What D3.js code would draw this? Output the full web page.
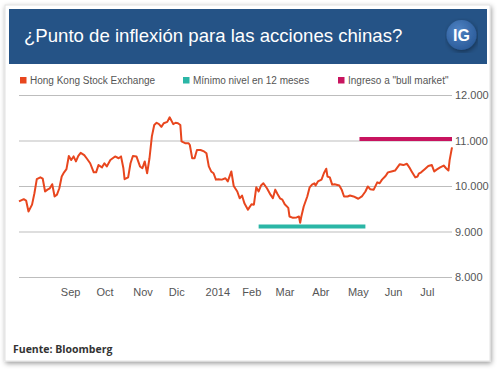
<!DOCTYPE html>
<html>
<head>
<meta charset="utf-8">
<script src="https://cdn.jsdelivr.net/npm/d3@7"></script>
<style>
  body { margin: 0; background: #fff; }
  svg { display: block; }
</style>
</head>
<body>
<svg id="chart"></svg>
<script>
// Index level (Hang Seng China Enterprises)
const dates = [
  "2013-07-29","2013-08-02","2013-08-04","2013-08-06","2013-08-09","2013-08-11","2013-08-13","2013-08-16",
  "2013-08-18","2013-08-20","2013-08-22","2013-08-24","2013-08-26","2013-08-28","2013-08-30","2013-09-01",
  "2013-09-03","2013-09-05","2013-09-07","2013-09-09","2013-09-11","2013-09-13","2013-09-15","2013-09-17",
  "2013-09-19","2013-09-22","2013-09-24","2013-09-27","2013-09-30","2013-10-02","2013-10-04","2013-10-07",
  "2013-10-09","2013-10-11","2013-10-14","2013-10-16","2013-10-18","2013-10-21","2013-10-23","2013-10-25",
  "2013-10-26","2013-10-29","2013-10-31","2013-11-02","2013-11-05","2013-11-08","2013-11-10","2013-11-12",
  "2013-11-14","2013-11-16","2013-11-18","2013-11-20","2013-11-22","2013-11-24","2013-11-26","2013-11-28",
  "2013-12-01","2013-12-03","2013-12-06","2013-12-08","2013-12-10","2013-12-12","2013-12-13","2013-12-16",
  "2013-12-19","2013-12-20","2013-12-22","2013-12-24","2013-12-26","2013-12-29","2014-01-01","2014-01-03",
  "2014-01-05","2014-01-07","2014-01-09","2014-01-11","2014-01-13","2014-01-16","2014-01-19","2014-01-21",
  "2014-01-24","2014-01-26","2014-01-29","2014-01-31","2014-02-02","2014-02-04","2014-02-07","2014-02-10",
  "2014-02-12","2014-02-14","2014-02-16","2014-02-18","2014-02-20","2014-02-23","2014-02-26","2014-02-28",
  "2014-03-02","2014-03-04","2014-03-06","2014-03-08","2014-03-10","2014-03-13","2014-03-14","2014-03-17",
  "2014-03-20","2014-03-22","2014-03-23","2014-03-24","2014-03-26","2014-03-29","2014-03-31","2014-04-02",
  "2014-04-04","2014-04-05","2014-04-07","2014-04-10","2014-04-12","2014-04-14","2014-04-15","2014-04-17",
  "2014-04-19","2014-04-21","2014-04-25","2014-04-27","2014-04-29","2014-05-02","2014-05-04","2014-05-07",
  "2014-05-11","2014-05-14","2014-05-17","2014-05-19","2014-05-21","2014-05-24","2014-05-27","2014-05-29",
  "2014-05-31","2014-06-03","2014-06-05","2014-06-08","2014-06-11","2014-06-13","2014-06-15","2014-06-18",
  "2014-06-21","2014-06-23","2014-06-25","2014-06-28","2014-06-30","2014-07-01","2014-07-03","2014-07-06",
  "2014-07-09","2014-07-12","2014-07-14","2014-07-16","2014-07-19","2014-07-22","2014-07-24","2014-07-26",
  "2014-07-27","2014-07-29"
];
const values = [
  9660,9710,9680,9440,9590,9840,10150,10190,
  10160,9880,9920,9950,10040,9770,9810,9950,
  10210,10300,10370,10660,10570,10650,10540,10660,
  10730,10680,10610,10500,10300,10300,10460,10410,
  10500,10430,10570,10610,10650,10610,10650,10390,
  10150,10190,10500,10660,10650,10430,10390,10540,
  10280,10610,11090,11340,11390,11360,11300,11380,
  11410,11510,11360,11390,11380,11340,10980,10940,
  10940,10900,10610,10610,10790,10790,10760,10720,
  10430,10320,10280,10140,10150,10140,10170,10100,
  10320,10000,9880,9730,9790,9620,9480,9600,
  9590,9970,9880,10010,10060,9950,9810,9730,
  9920,9820,9730,9700,9600,9520,9330,9300,
  9310,9330,9190,9330,9550,9770,9970,10030,
  10060,10010,10100,10140,10280,10380,10210,10190,
  10030,10040,10010,9920,9770,9770,9790,9770,
  9720,9770,9880,9990,9930,9920,10080,10060,
  10140,10220,10300,10320,10340,10410,10480,10460,
  10490,10410,10320,10190,10210,10270,10300,10370,
  10440,10460,10320,10360,10410,10450,10390,10340,
  10570,10850
];

// 12-month low and "bull market" threshold
const lowLevel = 9110, lowStart = "2014-02-16", lowEnd = "2014-05-17";
const bullLevel = 11000, bullStart = "2014-05-12", bullEnd = "2014-07-29";

const yTicks = [8000, 9000, 10000, 11000, 12000];
const monthTicks = ["2013-09-01","2013-10-01","2013-11-01","2013-12-01","2014-01-01",
  "2014-02-01","2014-03-01","2014-04-01","2014-05-01","2014-06-01","2014-07-01"];
const monthLabels = ["Sep","Oct","Nov","Dic","2014","Feb","Mar","Abr","May","Jun","Jul"];

const legendItems = [
  { label: "Hong Kong Stock Exchange", color: "#e8461e" },
  { label: "Mínimo nivel en 12 meses", color: "#2bb6a6" },
  { label: "Ingreso a \"bull market\"", color: "#c8145f" }
];

const width = 500, height = 373;
const parse = d3.timeParse("%Y-%m-%d");
const data = dates.map((d, i) => ({ date: parse(d), value: values[i] }));

const svg = d3.select("#chart").attr("width", width).attr("height", height);

// shadow for the card and the logo
const defs = svg.append("defs");
const shadow = defs.append("filter").attr("id", "shadow")
  .attr("x", "-5%").attr("y", "-5%").attr("width", "110%").attr("height", "112%");
shadow.append("feDropShadow").attr("dx", 1).attr("dy", 2).attr("stdDeviation", 2.4)
  .attr("flood-color", "#000").attr("flood-opacity", 0.4);
const logoGrad = defs.append("radialGradient").attr("id", "logoGrad")
  .attr("cx", "40%").attr("cy", "35%").attr("r", "70%");
logoGrad.append("stop").attr("offset", "0%").attr("stop-color", "#4f83c4");
logoGrad.append("stop").attr("offset", "100%").attr("stop-color", "#2a5a98");

// card
svg.append("rect")
  .attr("x", 5).attr("y", 5).attr("width", 485).attr("height", 356)
  .attr("fill", "#fff").attr("stroke", "#e2e2e2")
  .attr("filter", "url(#shadow)");

// header
svg.append("rect")
  .attr("x", 9).attr("y", 9).attr("width", 478).attr("height", 55)
  .attr("fill", "#255386");

svg.append("text")
  .attr("x", 24).attr("y", 42)
  .attr("fill", "#fff")
  .style("font-family", "'Liberation Sans', Arial, sans-serif")
  .style("font-size", "18.6px")
  .text("¿Punto de inflexión para las acciones chinas?");

svg.append("circle")
  .attr("cx", 461.5).attr("cy", 35).attr("r", 15)
  .attr("fill", "url(#logoGrad)")
  .attr("filter", "url(#shadow)");
svg.append("text")
  .attr("x", 461.5).attr("y", 41)
  .attr("text-anchor", "middle")
  .attr("fill", "#fff")
  .style("font-family", "'Liberation Sans', Arial, sans-serif")
  .style("font-size", "16px")
  .style("font-weight", "bold")
  .text("IG");

// legend
const legendX = [20, 183, 338];
const legend = svg.append("g").selectAll("g")
  .data(legendItems)
  .join("g")
  .attr("transform", (d, i) => `translate(${legendX[i]},77)`);
legend.append("rect").attr("width", 6.5).attr("height", 6.5).attr("fill", (d) => d.color);
legend.append("text")
  .attr("x", 10).attr("y", 6.8)
  .attr("fill", "#555")
  .style("font-family", "'Liberation Sans', Arial, sans-serif")
  .style("font-size", "10px")
  .text((d) => d.label);

// scales
const x = d3.scaleTime()
  .domain([parse("2013-07-29"), parse("2014-07-29")])
  .range([19, 452]);
const y = d3.scaleLinear().domain([8000, 12000]).range([277, 95]);

const esFormat = d3.formatLocale({ decimal: ",", thousands: ".", grouping: [3], currency: ["", ""] }).format(",");

// y axis with gridlines
const yAxis = svg.append("g")
  .attr("transform", "translate(452,0)")
  .call(d3.axisRight(y).tickValues(yTicks).tickSize(-433).tickPadding(3).tickFormat(esFormat));
yAxis.select(".domain").remove();
yAxis.selectAll(".tick line").attr("stroke", "#bdbdbd");
yAxis.selectAll(".tick text")
  .attr("fill", "#555")
  .style("font-family", "'Liberation Sans', Arial, sans-serif")
  .style("font-size", "11px");

// x axis (month labels)
const xAxis = svg.append("g")
  .attr("transform", "translate(0,284)")
  .call(d3.axisBottom(x)
    .tickValues(monthTicks.map(parse))
    .tickSize(0)
    .tickPadding(0)
    .tickFormat((d, i) => monthLabels[i]));
xAxis.select(".domain").remove();
xAxis.selectAll(".tick text")
  .attr("text-anchor", "start")
  .attr("dx", "1")
  .attr("dy", "12")
  .attr("fill", "#555")
  .style("font-family", "'Liberation Sans', Arial, sans-serif")
  .style("font-size", "11px");

// level bars
svg.append("line")
  .attr("x1", x(parse(lowStart))).attr("x2", x(parse(lowEnd)))
  .attr("y1", y(lowLevel)).attr("y2", y(lowLevel))
  .attr("stroke", "#2bb6a6").attr("stroke-width", 4);
svg.append("line")
  .attr("x1", x(parse(bullStart))).attr("x2", x(parse(bullEnd)))
  .attr("y1", y(bullLevel) - 1.5).attr("y2", y(bullLevel) - 1.5)
  .attr("stroke", "#c8145f").attr("stroke-width", 4);

// index line
const line = d3.line().x((d) => x(d.date)).y((d) => y(d.value));
svg.append("path")
  .datum(data)
  .attr("d", line)
  .attr("fill", "none")
  .attr("stroke", "#e8461e")
  .attr("stroke-width", 2)
  .attr("stroke-linejoin", "round");

// source
svg.append("text")
  .attr("x", 13).attr("y", 353)
  .attr("fill", "#333")
  .style("font-family", "'Open Sans', sans-serif")
  .style("font-size", "10.5px")
  .style("font-weight", "bold")
  .text("Fuente: Bloomberg");
</script>
</body>
</html>
